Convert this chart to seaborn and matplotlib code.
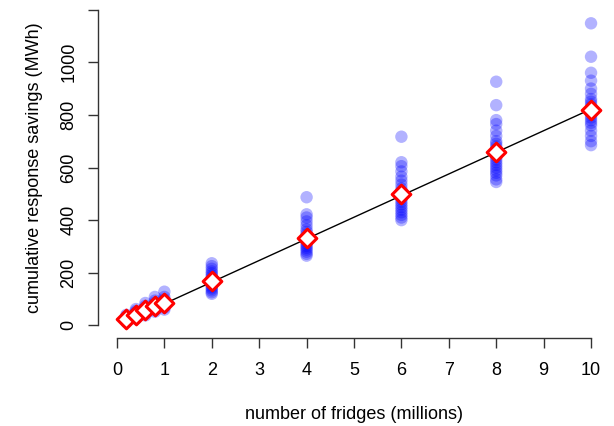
import numpy as np
import pandas as pd
import seaborn as sns
import matplotlib
matplotlib.use("Agg")
import matplotlib.pyplot as plt

# fridge counts (millions) and simulated cumulative savings (MWh)
fridges = [0.2, 0.4, 0.6, 0.8, 1, 2, 4, 6, 8, 10]
savings = {
    0.2: [12, 15, 18, 20, 22, 24, 26, 28, 31, 35, 40],
    0.4: [25, 30, 34, 37, 40, 43, 46, 50, 55, 62],
    0.6: [38, 44, 49, 53, 57, 60, 64, 68, 74, 85],
    0.8: [52, 58, 64, 68, 72, 76, 80, 86, 94, 108],
    1: [60, 67, 74, 79, 84, 88, 93, 99, 108, 128],
    2: [236, 225, 215, 205, 198, 190, 183, 176, 170, 164, 158, 152, 146, 140, 133, 126, 120],
    4: [487, 422, 410, 395, 380, 365, 355, 345, 335, 325, 318, 310, 302, 295, 288, 280, 272, 265],
    6: [717, 620, 605, 585, 565, 550, 535, 520, 510, 500, 490, 480, 470, 460, 450, 440, 430,
        420, 410, 400],
    8: [926, 837, 780, 765, 740, 720, 700, 690, 680, 670, 660, 650, 640, 630, 620, 610, 600,
        590, 580, 570, 555, 545],
    10: [1148, 1021, 960, 930, 900, 880, 860, 850, 840, 830, 820, 810, 800, 790, 780, 770, 760,
         740, 720, 700, 685],
}
mean_savings = [23, 41, 57, 73, 86, 167, 333, 499, 659, 820]
fit_x = [0.2, 10]
fit_y = [16.5, 822]

x_ticks = list(range(0, 11))
y_ticks = [0, 200, 400, 600, 800, 1000, 1200]
y_labels = ["0", "200", "400", "600", "800", "1000", ""]

rows = [(x, y) for x in fridges for y in savings[x]]
df = pd.DataFrame(rows, columns=["fridges", "savings"])
means = pd.DataFrame({"fridges": fridges, "savings": mean_savings})
fit = pd.DataFrame({"fridges": fit_x, "savings": fit_y})

sns.set_style("ticks")
plt.rcParams["font.family"] = ["Liberation Sans", "DejaVu Sans"]
plt.rcParams["text.color"] = "black"
plt.rcParams["axes.labelcolor"] = "black"
plt.rcParams["xtick.color"] = "black"
plt.rcParams["ytick.color"] = "black"

fig = plt.figure(figsize=(6.14, 4.26), dpi=100)
ax = fig.add_axes([98 / 614, 88 / 426, 512 / 614, 341 / 426])

sns.scatterplot(data=df, x="fridges", y="savings", color="blue", alpha=0.3,
                s=80, edgecolor="none", ax=ax, zorder=2)
sns.lineplot(data=fit, x="fridges", y="savings", color="black", linewidth=1, ax=ax, zorder=3)
sns.scatterplot(data=means, x="fridges", y="savings", marker="D", color="white",
                edgecolor="red", linewidth=2.2, s=90, ax=ax, zorder=4)

ax.set_xlim(-0.4, 10.4)
ax.set_ylim(-48, 1248)
ax.set_xticks(x_ticks)
ax.set_yticks(y_ticks)
ax.set_yticklabels(y_labels, rotation=90, va="center")
ax.tick_params(axis="both", labelsize=13, length=7, width=1, color="#333333")
ax.tick_params(axis="x", pad=10)
ax.tick_params(axis="y", pad=8)
ax.spines["top"].set_visible(False)
ax.spines["right"].set_visible(False)
ax.spines["bottom"].set_bounds(0, 10)
ax.spines["left"].set_bounds(0, 1200)
for s in ["bottom", "left"]:
    ax.spines[s].set_color("#333333")
    ax.spines[s].set_linewidth(1)
ax.set_xlabel("number of fridges (millions)", fontsize=13, labelpad=20)
ax.set_ylabel("cumulative response savings (MWh)", fontsize=13, labelpad=12)

fig.savefig("out.png", dpi=100)
